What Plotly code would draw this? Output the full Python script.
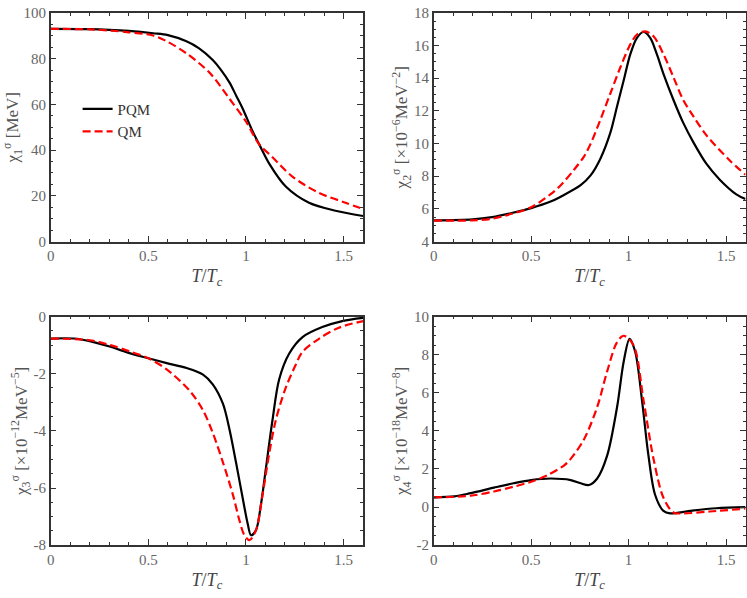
import plotly.graph_objects as go
from plotly.subplots import make_subplots

# chi_1 (MeV)
t1_pqm = [0, 0.2, 0.3, 0.4, 0.525, 0.6, 0.695, 0.76, 0.83, 0.87, 0.916, 0.95, 0.983, 1.034, 1.068, 1.12, 1.204, 1.323, 1.459, 1.6]
c1_pqm = [93, 92.9, 92.6, 92.1, 91.1, 90.3, 87.6, 84.5, 79.4, 75.3, 69.5, 63.8, 58.2, 48.2, 42.5, 34, 24.1, 17, 13.5, 11.2]
t1_qm = [0, 0.2, 0.3, 0.4, 0.525, 0.6, 0.695, 0.814, 0.916, 1.0, 1.068, 1.136, 1.238, 1.374, 1.51, 1.6]
c1_qm = [93, 92.8, 92.3, 91.5, 90.1, 87.3, 82.3, 73.8, 62.4, 52.5, 42.5, 36.9, 28.4, 21.3, 17, 14.2]

# chi_2 (x 1e-6 MeV^-2)
t2_pqm = [0, 0.2, 0.3, 0.4, 0.5, 0.6, 0.652, 0.754, 0.805, 0.856, 0.907, 0.941, 0.975, 1.009, 1.043, 1.077, 1.111, 1.145, 1.179, 1.23, 1.28, 1.332, 1.4, 1.468, 1.553, 1.6]
c2_pqm = [5.3, 5.36, 5.5, 5.75, 6.05, 6.45, 6.75, 7.45, 8.05, 9.09, 10.68, 12.28, 13.87, 15.47, 16.47, 16.83, 16.47, 15.47, 14.27, 12.68, 11.28, 10.09, 8.75, 7.79, 6.89, 6.6]
t2_qm = [0, 0.2, 0.3, 0.4, 0.5, 0.6, 0.652, 0.72, 0.771, 0.805, 0.856, 0.907, 0.958, 1.009, 1.043, 1.085, 1.128, 1.179, 1.23, 1.28, 1.332, 1.4, 1.518, 1.6]
c2_qm = [5.28, 5.3, 5.4, 5.7, 6.1, 6.9, 7.45, 8.4, 9.2, 9.98, 11.48, 13.08, 14.67, 16.07, 16.67, 16.87, 16.57, 15.47, 14.07, 12.68, 11.68, 10.5, 8.98, 8.09]

# chi_3 (x 1e-12 MeV^-5)
t3_pqm = [0, 0.119, 0.2, 0.306, 0.408, 0.5, 0.594, 0.696, 0.78, 0.83, 0.882, 0.916, 0.949, 0.983, 1.009, 1.026, 1.051, 1.077, 1.102, 1.136, 1.17, 1.221, 1.29, 1.391, 1.493, 1.6]
c3_pqm = [-0.77, -0.77, -0.86, -1.06, -1.29, -1.46, -1.63, -1.8, -2.03, -2.37, -3.05, -3.96, -5.1, -6.34, -7.25, -7.65, -7.48, -6.57, -5.32, -3.62, -2.2, -1.3, -0.72, -0.37, -0.16, -0.05]
t3_qm = [0, 0.2, 0.306, 0.408, 0.5, 0.594, 0.712, 0.78, 0.83, 0.882, 0.933, 0.967, 0.992, 1.018, 1.051, 1.085, 1.12, 1.153, 1.204, 1.255, 1.289, 1.374, 1.476, 1.6]
c3_qm = [-0.77, -0.83, -1.0, -1.23, -1.46, -1.85, -2.6, -3.28, -4.07, -5.1, -6.23, -7.14, -7.65, -7.82, -7.48, -6.23, -4.76, -3.62, -2.49, -1.69, -1.24, -0.78, -0.39, -0.16]

# chi_4 (x 1e-18 MeV^-8)
t4_pqm = [0, 0.107, 0.19, 0.31, 0.41, 0.5, 0.6, 0.703, 0.754, 0.797, 0.839, 0.89, 0.941, 0.975, 1.005, 1.034, 1.069, 1.102, 1.136, 1.179, 1.213, 1.315, 1.45, 1.6]
c4_pqm = [0.51, 0.56, 0.73, 1.02, 1.25, 1.42, 1.5, 1.42, 1.25, 1.16, 1.5, 2.7, 5.25, 7.64, 8.83, 8.15, 5.59, 2.7, 0.65, -0.2, -0.33, -0.2, -0.06, 0.0]
t4_qm = [0, 0.19, 0.31, 0.41, 0.5, 0.583, 0.668, 0.703, 0.771, 0.839, 0.89, 0.941, 0.975, 1.026, 1.077, 1.128, 1.179, 1.23, 1.28, 1.417, 1.6]
c4_qm = [0.51, 0.6, 0.82, 1.07, 1.33, 1.67, 2.18, 2.53, 3.55, 5.25, 7.12, 8.66, 8.99, 8.48, 5.59, 2.53, 0.49, -0.28, -0.33, -0.23, -0.08]

x_ticks = [0, 0.5, 1, 1.5]
x_ticktext = ["0", "0.5", "1", "1.5"]
y1_ticks = [0, 20, 40, 60, 80, 100]
y2_ticks = [4, 6, 8, 10, 12, 14, 16, 18]
y3_ticks = [-8, -6, -4, -2, 0]
y4_ticks = [-2, 0, 2, 4, 6, 8, 10]

y_titles = [
    "χ<sub>1</sub><sup>σ</sup> [MeV]",
    "χ<sub>2</sub><sup>σ</sup> [×10<sup>−6</sup>MeV<sup>−2</sup>]",
    "χ<sub>3</sub><sup>σ</sup> [×10<sup>−12</sup>MeV<sup>−5</sup>]",
    "χ<sub>4</sub><sup>σ</sup> [×10<sup>−18</sup>MeV<sup>−8</sup>]",
]
x_title = "<i>T</i>/<i>T</i><sub><i>c</i></sub>"

serif = "Liberation Serif"
frame = "#333333"
label_grey = "#666666"

fig = make_subplots(rows=2, cols=2)

panels = [
    (1, 1, t1_pqm, c1_pqm, t1_qm, c1_qm, y1_ticks, [0, 100], 5),
    (1, 2, t2_pqm, c2_pqm, t2_qm, c2_qm, y2_ticks, [4, 18], 0.5),
    (2, 1, t3_pqm, c3_pqm, t3_qm, c3_qm, y3_ticks, [-8, 0], 0.5),
    (2, 2, t4_pqm, c4_pqm, t4_qm, c4_qm, y4_ticks, [-2, 10], 0.5),
]

for i, (r, c, tp, cp, tq, cq, yt, yr, ydm) in enumerate(panels):
    fig.add_trace(go.Scatter(x=tp, y=cp, mode="lines", name="PQM", showlegend=(i == 0),
                             line=dict(color="black", width=2.2, shape="spline", smoothing=0.9)),
                  row=r, col=c)
    fig.add_trace(go.Scatter(x=tq, y=cq, mode="lines", name="QM", showlegend=(i == 0),
                             line=dict(color="red", width=2.2, dash="8px,4px", shape="spline", smoothing=0.9)),
                  row=r, col=c)
    fig.update_xaxes(range=[0, 1.6], tickvals=x_ticks, ticktext=x_ticktext,
                     ticks="inside", ticklen=6, tickwidth=1, tickcolor=frame,
                     minor=dict(dtick=0.1, tick0=0, ticks="inside", ticklen=3, tickcolor=frame),
                     showline=True, linecolor=frame, linewidth=1.5, mirror="ticks",
                     showgrid=False, zeroline=False,
                     tickfont=dict(family=serif, size=15, color=label_grey),
                     title=dict(text=x_title, font=dict(family=serif, size=18, color="#444444"), standoff=6),
                     row=r, col=c)
    fig.update_yaxes(range=yr, tickvals=yt, ticktext=[str(v) for v in yt],
                     ticks="inside", ticklen=6, tickwidth=1, tickcolor=frame,
                     minor=dict(dtick=ydm, tick0=yr[0], ticks="inside", ticklen=3, tickcolor=frame),
                     showline=True, linecolor=frame, linewidth=1.5, mirror="ticks",
                     showgrid=False, zeroline=False,
                     tickfont=dict(family=serif, size=15, color=label_grey),
                     title=dict(text=y_titles[i], font=dict(family=serif, size=17, color="#555555"), standoff=2),
                     row=r, col=c)

# panel placement
fig.update_layout(
    xaxis=dict(domain=[47 / 747, 361 / 747]),
    xaxis2=dict(domain=[432 / 747, 745.5 / 747]),
    xaxis3=dict(domain=[47 / 747, 361 / 747]),
    xaxis4=dict(domain=[432 / 747, 745.5 / 747]),
    yaxis=dict(domain=[1 - 240 / 598, 1 - 5 / 598]),
    yaxis2=dict(domain=[1 - 240 / 598, 1 - 5 / 598]),
    yaxis3=dict(domain=[1 - 552 / 598, 1 - 317 / 598]),
    yaxis4=dict(domain=[1 - 552 / 598, 1 - 317 / 598]),
)

fig.update_layout(
    width=747, height=598,
    margin=dict(l=0, r=0, t=0, b=0),
    paper_bgcolor="white", plot_bgcolor="white",
    font=dict(family=serif, color="#333333"),
    legend=dict(x=74 / 747, y=1 - 87 / 598, xanchor="left", yanchor="top",
                bgcolor="rgba(0,0,0,0)", font=dict(family=serif, size=15, color="#333333"),
                tracegroupgap=0, itemwidth=30),
)

fig.write_html("out.html", config={"displayModeBar": False},
               post_script="document.body.style.margin='0';document.body.style.overflow='hidden';")
